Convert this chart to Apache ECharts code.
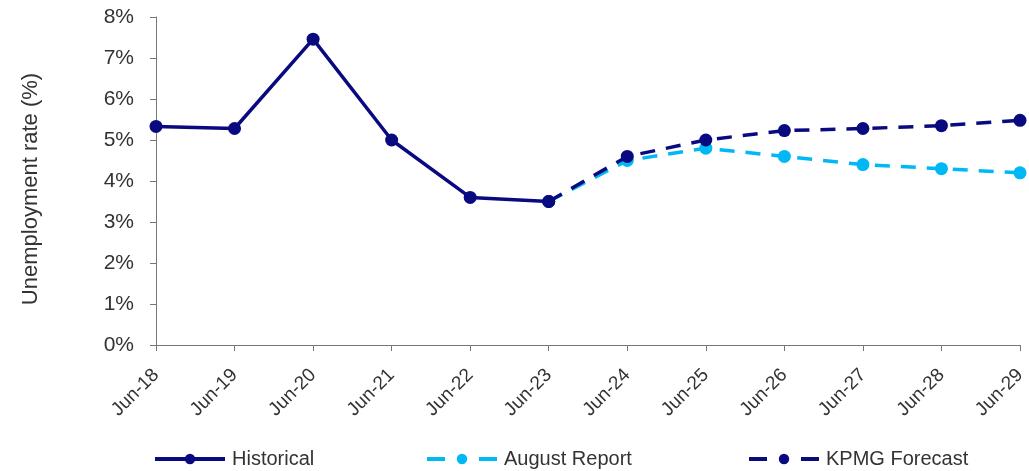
<!DOCTYPE html>
<html>
<head>
<meta charset="utf-8">
<script src="https://cdn.jsdelivr.net/npm/echarts@6/dist/echarts.min.js"></script>
<style>
  html, body { margin: 0; padding: 0; background: #fff; }
  #chart { width: 1029px; height: 471px; }
</style>
</head>
<body>
<div id="chart"></div>
<script>
// Unemployment rate: history and two forecast paths
const categories = ['Jun-18', 'Jun-19', 'Jun-20', 'Jun-21', 'Jun-22', 'Jun-23',
                    'Jun-24', 'Jun-25', 'Jun-26', 'Jun-27', 'Jun-28', 'Jun-29'];
const historical = [5.33, 5.28, 7.46, 5.0, 3.6, 3.5, null, null, null, null, null, null];
const augustReport = [null, null, null, null, null, 3.5, 4.5, 4.8, 4.6, 4.4, 4.3, 4.2];
const kpmgForecast = [null, null, null, null, null, 3.5, 4.6, 5.0, 5.23, 5.28, 5.35, 5.48];
const yTicks = [0, 1, 2, 3, 4, 5, 6, 7, 8];

const NAVY = '#0a0a80';
const LIGHT = '#00b8f5';
const FONT = 'Liberation Sans';
const TEXT = '#333333';
const DASH = [15, 11];

const chart = echarts.init(document.getElementById('chart'));

function legendAt(name, left, dashed) {
  return {
    data: [name],
    left: left,
    top: 444,
    itemWidth: 70,
    itemHeight: 13,
    itemGap: 0,
    lineStyle: dashed ? { type: [18, 34], width: 4 } : { width: 4 },
    textStyle: { fontFamily: FONT, fontSize: 20, color: TEXT, padding: [0, 0, 0, 2] },
    selectedMode: false
  };
}

chart.setOption({
  animation: false,
  grid: { left: 156, right: 9, top: 17, bottom: 126 },
  legend: [
    legendAt('Historical', 148, false),
    legendAt('August Report', 420, true),
    legendAt('KPMG Forecast', 742, true)
  ],
  xAxis: {
    type: 'category',
    data: categories,
    boundaryGap: false,
    axisLine: { lineStyle: { color: '#777', width: 1 } },
    axisTick: { alignWithLabel: true, length: 6, lineStyle: { color: '#777' } },
    axisLabel: {
      rotate: 45, fontFamily: FONT, fontSize: 19, color: TEXT, margin: 27,
      interval: 0
    },
    splitLine: { show: false }
  },
  yAxis: {
    type: 'value',
    min: yTicks[0],
    max: yTicks[yTicks.length - 1],
    interval: 1,
    name: 'Unemployment rate (%)',
    nameLocation: 'middle',
    nameGap: 114,
    nameRotate: 90,
    nameTextStyle: { fontFamily: FONT, fontSize: 22, color: TEXT, padding: [0, 16, 0, 0] },
    axisLine: { show: true, lineStyle: { color: '#777', width: 1 } },
    axisTick: { show: true, length: 6, lineStyle: { color: '#777' } },
    axisLabel: {
      fontFamily: FONT, fontSize: 21, color: TEXT, margin: 22,
      formatter: v => v + '%'
    },
    splitLine: { show: false }
  },
  series: [
    {
      name: 'Historical',
      type: 'line',
      data: historical,
      z: 5,
      symbol: 'circle',
      symbolSize: 13,
      showAllSymbol: true,
      lineStyle: { color: NAVY, width: 3.5 },
      itemStyle: { color: NAVY }
    },
    {
      name: 'August Report',
      type: 'line',
      data: augustReport,
      z: 3,
      symbol: 'circle',
      symbolSize: 13,
      showAllSymbol: true,
      lineStyle: { color: LIGHT, width: 3.5, type: DASH },
      itemStyle: { color: LIGHT }
    },
    {
      name: 'KPMG Forecast',
      type: 'line',
      data: kpmgForecast,
      z: 4,
      symbol: 'circle',
      symbolSize: 13,
      showAllSymbol: true,
      lineStyle: { color: NAVY, width: 3.5, type: DASH },
      itemStyle: { color: NAVY }
    }
  ]
});
</script>
</body>
</html>
